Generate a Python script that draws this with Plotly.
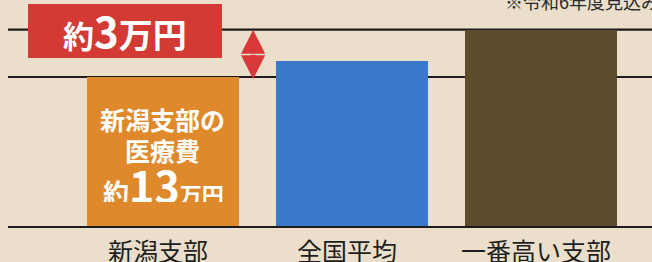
import plotly.graph_objects as go

# ---- data (万円) ----
categories = ["新潟支部", "全国平均", "一番高い支部"]
values = [13.0, 14.4, 17.1]
bar_colors = ["#de8a2c", "#3a79c9", "#5e4b2c"]
diff_label = ["約", "3", "万円"]
note_text = "※令和6年度見込み"
inner_lines = ["新潟支部の", "医療費"]
inner_amount = ["約", "13", "万円"]

FONT = "Noto Sans CJK JP"
BG = "#ebdfcb"
PX = 11.54  # pixels per 万円 (for placing text by pixel row)

fig = go.Figure()
fig.add_trace(go.Bar(
    x=categories, y=values,
    marker=dict(color=bar_colors, line=dict(width=0)),
    width=0.805, hoverinfo="skip",
))

ref_low = values[0]
ref_high = max(values)

shapes = [
    dict(type="line", xref="paper", yref="y", x0=8/652, x1=1, y0=ref_high, y1=ref_high,
         line=dict(color="#1c1c1c", width=2.2), layer="below"),
    dict(type="line", xref="paper", yref="y", x0=8/652, x1=1, y0=ref_low, y1=ref_low,
         line=dict(color="#1c1c1c", width=2.2), layer="below"),
    dict(type="line", xref="paper", yref="y", x0=8/652, x1=1, y0=0, y1=0,
         line=dict(color="#1c1c1c", width=2.2), layer="above"),
    dict(type="rect", xref="paper", yref="paper", x0=28/652, x1=222/652,
         y0=1-58/262, y1=1-4/262, fillcolor="#d23a33", line=dict(width=0), layer="above"),
]

annotations = []
for i, c in enumerate(categories):
    annotations.append(dict(x=i, y=-1.95, xref="x", yref="y", text=c, showarrow=False,
                            xshift=-5, yanchor="middle",
                            font=dict(family=FONT, size=25, color="#1e1e1e")))

red_text = ("<b><span style='font-size:31px'>" + diff_label[0] + "</span>"
            "<span style='font-size:42px'>" + diff_label[1] + "</span>"
            "<span style='font-size:34px'>" + diff_label[2] + "</span></b>")
annotations.append(dict(xref="paper", yref="paper", x=125/652, y=1-29/262, text=red_text,
                        showarrow=False, xanchor="center", yanchor="middle",
                        font=dict(family=FONT, size=34, color="white")))

annotations.append(dict(xref="paper", yref="paper", x=503/652, y=1-1/262, text=note_text,
                        showarrow=False, xanchor="left", yanchor="middle",
                        font=dict(family=FONT, size=18, color="#2a2a2a")))

# inner text of the Niigata bar
for line, row in zip(inner_lines, (119, 150)):
    annotations.append(dict(x=0, y=(227-row)/PX, xref="x", yref="y", text=f"<b>{line}</b>",
                            showarrow=False, yanchor="middle", xshift=-1, height=30,
                            font=dict(family=FONT, size=25, color="white")))
amount_text = ("<b><span style='font-size:26px'>" + inner_amount[0] + "</span>"
               + inner_amount[1] +
               "<span style='font-size:22px'>" + inner_amount[2] + "</span></b>")
annotations.append(dict(x=0, y=(227-184)/PX, xref="x", yref="y", text=amount_text,
                        showarrow=False, yanchor="middle", xshift=0, height=36,
                        font=dict(family=FONT, size=43, color="white")))

# double arrow between the two reference lines (two heads from the middle)
mid = (ref_low + ref_high) / 2
for end in (ref_low - 0.2, ref_high):
    annotations.append(dict(x=0.475, y=end, ax=0.475, ay=mid, xref="x", yref="y",
                            axref="x", ayref="y", text="", showarrow=True,
                            arrowhead=2, arrowsize=1.05, arrowwidth=4.6,
                            arrowcolor="#d8383a"))

fig.update_layout(
    width=652, height=262,
    margin=dict(l=0, r=0, t=0, b=0),
    paper_bgcolor=BG, plot_bgcolor=BG,
    showlegend=False,
    shapes=shapes, annotations=annotations,
    bargap=0,
)
fig.update_xaxes(range=[-0.866, 2.588], showgrid=False, zeroline=False,
                 showticklabels=False, showline=False, fixedrange=True)
fig.update_yaxes(range=[-(262-227)/PX, 227/PX], showgrid=False, zeroline=False,
                 showticklabels=False, showline=False, fixedrange=True)

fig.write_html("out.html", config={"displayModeBar": False},
               post_script="document.body.style.margin='0';document.body.style.overflow='hidden';")
